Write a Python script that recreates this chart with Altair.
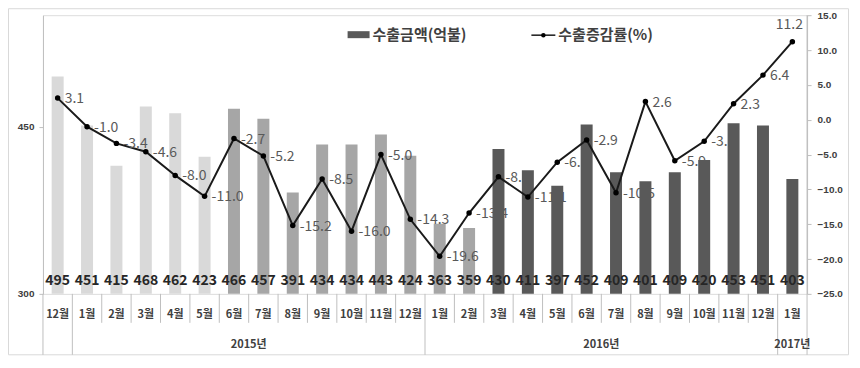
import altair as alt
import pandas as pd

# ---------------- data ----------------
months = ["12월", "1월", "2월", "3월", "4월", "5월", "6월", "7월", "8월", "9월", "10월", "11월", "12월",
          "1월", "2월", "3월", "4월", "5월", "6월", "7월", "8월", "9월", "10월", "11월", "12월", "1월"]
years = [""] + ["2015년"] * 12 + ["2016년"] * 12 + ["2017년"]
amounts = [495, 451, 415, 468, 462, 423, 466, 457, 391, 434, 434, 443, 424,
           363, 359, 430, 411, 397, 452, 409, 401, 409, 420, 453, 451, 403]
rates = [3.1, -1.0, -3.4, -4.6, -8.0, -11.0, -2.7, -5.2, -15.2, -8.5, -16.0, -5.0, -14.3,
         -19.6, -13.4, -8.2, -11.1, -6.1, -2.9, -10.5, 2.6, -5.9, -3.1, 2.3, 6.4, 11.2]
periods = ["a"] * 6 + ["b"] * 9 + ["c"] * 11
period_colors = ["#d9d9d9", "#a6a6a6", "#595959"]
legend_labels = ["수출금액(억불)", "수출증감률(%)"]
left_ticks = [300, 450]
right_ticks = [-25, -20, -15, -10, -5, 0, 5, 10, 15]

FONT = "Noto Sans CJK KR"
NUMFONT = "Liberation Sans"

keys = [f"{i:02d}" for i in range(len(months))]
df = pd.DataFrame({"key": keys, "month": months, "amount": amounts, "rate": rates,
                   "period": periods})
df["rate_label"] = [f"{r:.1f}" for r in rates]
df["year_start"] = [(i == 0) or (m == "1월") for i, m in enumerate(months)]
df["is_last"] = [i == len(months) - 1 for i in range(len(months))]

# year label placement (centre of each year's group of months)
yr_even, yr_odd = [], []
for y in [y for y in dict.fromkeys(years) if y]:
    idx = [i for i, v in enumerate(years) if v == y]
    n = len(idx)
    if n % 2 == 0:
        yr_even.append({"key": keys[idx[0] + n // 2], "year": y})
    else:
        yr_odd.append({"key": keys[idx[n // 2]], "year": y})
yr_even = pd.DataFrame(yr_even)
yr_odd = pd.DataFrame(yr_odd)

W, H = 765, 279

xscale = alt.Scale(paddingInner=0, paddingOuter=0)


def X(bp=None, axis=False):
    kw = {}
    if bp is not None:
        kw["bandPosition"] = bp
    if axis:
        return alt.X("key:N", sort=keys, scale=xscale,
                     axis=alt.Axis(labels=False, ticks=False, title=None,
                                   domainColor="#bfbfbf", grid=False), **kw)
    return alt.X("key:N", sort=keys, scale=xscale, axis=None, **kw)


base = alt.Chart(df)

bars = base.mark_bar(size=12).encode(
    x=X(axis=True),
    y=alt.Y("amount:Q", scale=alt.Scale(domain=[300, 550], zero=False, nice=False),
            axis=alt.Axis(values=left_ticks, title=None, grid=False, labelFont=NUMFONT,
                          labelFontWeight="bold", labelFontSize=10, labelColor="#404040",
                          domainColor="#bfbfbf", tickColor="#bfbfbf", tickSize=4,
                          labelPadding=5, labelFlush=False)),
    y2=alt.datum(300),
    color=alt.Color("period:N", scale=alt.Scale(domain=["a", "b", "c"], range=period_colors),
                    legend=None),
)

bar_labels = base.mark_text(font=FONT, fontSize=14, fontWeight="bold", color="#262626",
                            baseline="middle").encode(
    x=X(), y=alt.value(266), text="amount:Q")

yrate = alt.Y("rate:Q", scale=alt.Scale(domain=[-25, 15], zero=False, nice=False),
              axis=alt.Axis(orient="right", values=right_ticks, format=".1f", title=None,
                            grid=False, labelFont=NUMFONT, labelFontWeight="bold",
                            labelFontSize=10, labelColor="#404040", domainColor="#bfbfbf",
                            tickColor="#bfbfbf", tickSize=4, labelPadding=6,
                            labelFlush=False))

line = base.mark_line(color="#1a1a1a", strokeWidth=2).encode(x=X(), y=yrate)
points = base.mark_circle(size=30, color="#000000", opacity=1).encode(x=X(), y=yrate)
rate_labels = base.transform_filter("!datum.is_last").mark_text(
    font=FONT, fontSize=14, color="#595959", align="left",
    baseline="middle", dx=7, dy=1).encode(x=X(), y=yrate, text="rate_label:N")
last_label = base.transform_filter("datum.is_last").mark_text(
    font=FONT, fontSize=14, color="#595959", align="center",
    baseline="middle", dx=-3, dy=-17).encode(x=X(), y=yrate, text="rate_label:N")

rate_layer = alt.layer(line, points, rate_labels, last_label)

# category table below the plot
month_text = base.mark_text(font=FONT, fontSize=11, fontWeight="bold", color="#404040",
                            baseline="middle").encode(x=X(), y=alt.value(300), text="month:N")
short_rules = base.transform_filter("!datum.year_start").mark_rule(
    color="#bfbfbf").encode(x=X(0), y=alt.value(279), y2=alt.value(308))
long_rules = base.transform_filter("datum.year_start").mark_rule(
    color="#bfbfbf").encode(x=X(0), y=alt.value(279), y2=alt.value(340))
end_rule = base.transform_filter("datum.is_last").mark_rule(
    color="#bfbfbf").encode(x=X(1), y=alt.value(0), y2=alt.value(340))
year_text_even = alt.Chart(yr_even).mark_text(
    font=FONT, fontSize=11, fontWeight="bold", color="#404040", baseline="middle").encode(
    x=X(0), y=alt.value(330), text="year:N")
year_text_odd = alt.Chart(yr_odd).mark_text(
    font=FONT, fontSize=11, fontWeight="bold", color="#404040", baseline="middle").encode(
    x=X(), y=alt.value(330), text="year:N")

# outer frame
one = alt.Chart(pd.DataFrame({"o": [0]}))
frame = one.mark_rect(fillOpacity=0, stroke="#d9d9d9", strokeWidth=1).encode(
    x=alt.value(-34.5), x2=alt.value(806.5), y=alt.value(-6.5), y2=alt.value(340))

# legend
leg_rect = one.mark_rect(color="#595959").encode(
    x=alt.value(305), x2=alt.value(327), y=alt.value(16), y2=alt.value(23))
leg_text1 = one.mark_text(font=FONT, fontSize=15, fontWeight="bold", color="#404040",
                          align="left", baseline="middle").encode(
    x=alt.value(330), y=alt.value(20), text=alt.value(legend_labels[0]))
leg_line = one.mark_rule(color="#1a1a1a", strokeWidth=1.5).encode(
    x=alt.value(489), x2=alt.value(513), y=alt.value(20))
leg_dot = one.mark_circle(size=20, color="#000000", opacity=1).encode(
    x=alt.value(501), y=alt.value(20))
leg_text2 = one.mark_text(font=FONT, fontSize=15, fontWeight="bold", color="#404040",
                          align="left", baseline="middle").encode(
    x=alt.value(516), y=alt.value(20), text=alt.value(legend_labels[1]))

chart = alt.layer(
    frame, bars, bar_labels, rate_layer,
    short_rules, long_rules, end_rule, month_text, year_text_even, year_text_odd,
    leg_rect, leg_text1, leg_line, leg_dot, leg_text2,
).resolve_scale(y="independent").properties(
    width=W, height=H,
    autosize=alt.AutoSizeParams(type="none"),
    padding={"left": 35, "top": 7, "right": 45, "bottom": 63},
).configure_view(strokeWidth=0).configure(font=FONT)

chart.save("out.html", embed_options={"renderer": "svg", "actions": False})
